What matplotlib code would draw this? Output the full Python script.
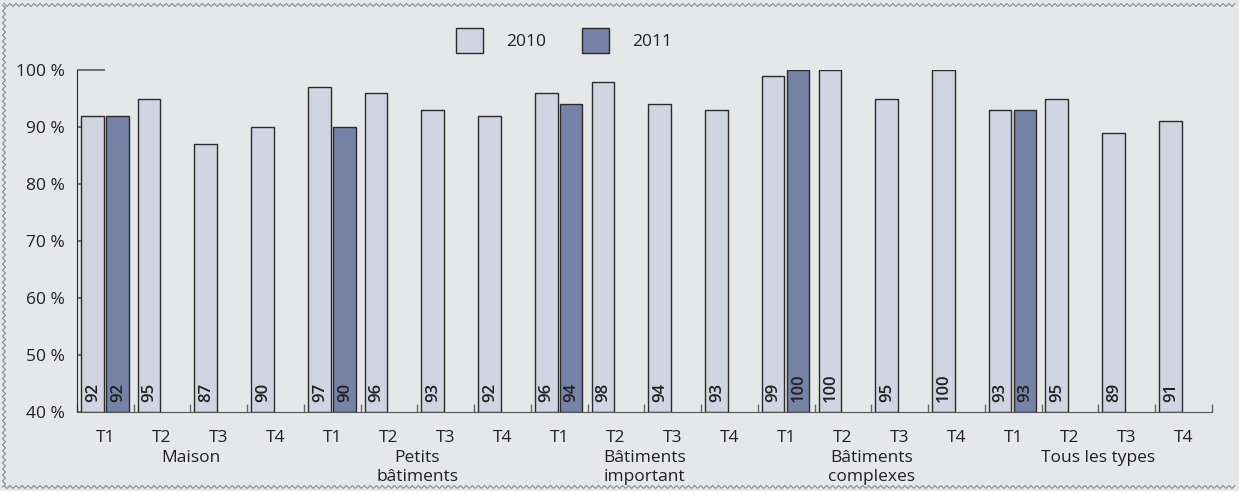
import matplotlib.pyplot as plt
import matplotlib.transforms as mtransforms
import numpy as np

plt.rcParams['font.family'] = ['Open Sans', 'DejaVu Sans']

groups = ['Maison', 'Petits\nbâtiments', 'Bâtiments\nimportant',
          'Bâtiments\ncomplexes', 'Tous les types']
periods = ['T1', 'T2', 'T3', 'T4']

# share (%) per group and period
vals_2010 = [92, 95, 87, 90,
             97, 96, 93, 92,
             96, 98, 94, 93,
             99, 100, 95, 100,
             93, 95, 89, 91]
# 2011 only has the first period of each group
vals_2011 = [92, 90, 94, 100, 93]

bg = '#e6e7e8'
c2010 = '#d1d5e1'
c2011 = '#7783a6'
edge = '#2b2b2b'
txt = '#231f20'

fig = plt.figure(figsize=(12.39, 4.91), dpi=100, facecolor=bg)
ax = fig.add_axes([0.0621, 0.161, 0.9159, 0.696], facecolor=bg)

n = len(vals_2010)
x = np.arange(n)
w = 0.40
b1 = ax.bar(x + 0.07, np.array(vals_2010) - 40, w, bottom=40, align='edge',
            color=c2010, edgecolor=edge, linewidth=1.0, label='2010', zorder=2)
x11 = x[::4]
b2 = ax.bar(x11 + 0.51, np.array(vals_2011) - 40, w, bottom=40, align='edge',
            color=c2011, edgecolor=edge, linewidth=1.0, label='2011', zorder=2)

# values written upright inside the bars, near the base
for xs, vs in ((x + 0.07, vals_2010), (x11 + 0.51, vals_2011)):
    for xi, v in zip(xs, vs):
        ax.text(xi + w / 2 + 0.01, 41.7, str(v), rotation=90, ha='center',
                va='bottom', fontsize=12, fontweight='semibold', color=txt,
                zorder=3)

ax.set_xlim(0, n)
ax.set_ylim(40, 100)
ax.spines['top'].set_visible(False)
ax.spines['right'].set_visible(False)
ax.spines['left'].set_color(edge)
ax.spines['bottom'].set_color('#555555')
ax.set_axisbelow(True)

yt = np.arange(40, 101, 10)
ax.set_yticks(yt)
ax.set_yticklabels([f'{t} %' for t in yt])
ax.tick_params(axis='y', direction='in', length=20, width=1.3, color='#666666',
               pad=9, labelsize=12.5, labelcolor=txt)

ax.set_xticks(np.arange(0, n + 1))
ax.set_xticklabels([])
ax.tick_params(axis='x', which='major', direction='in', length=6, width=1,
               color='#666666')
ax.set_xticks(x + 0.5, minor=True)
ax.set_xticklabels(periods * len(groups), minor=True)
ax.tick_params(axis='x', which='minor', length=0, pad=13, labelsize=12.5,
               labelcolor=txt)

for i, g in enumerate(groups):
    ax.annotate(g, xy=(4 * i + 2, 0), xycoords=('data', 'axes fraction'),
                xytext=(0, -27.5), textcoords='offset points', ha='center',
                va='top', fontsize=12.5, color=txt, linespacing=1.25)

ax.legend(handles=[b1, b2], loc='upper center', bbox_to_anchor=(0.429, 1.17),
          ncol=2, frameon=False, fontsize=12.5, handlelength=1.6,
          handleheight=1.9, columnspacing=2.05, handletextpad=1.3,
          labelcolor=txt)

# zigzag border around the figure
W, H = 1239, 491
tr = mtransforms.Affine2D().scale(1 / W, 1 / H) + fig.transFigure
def zig(x0, y0, x1, y1, step=6, amp=1.5):
    L = np.hypot(x1 - x0, y1 - y0)
    k = int(L // (step / 2))
    t = np.linspace(0, 1, k + 1)
    px = x0 + (x1 - x0) * t
    py = y0 + (y1 - y0) * t
    nx, ny = -(y1 - y0) / L, (x1 - x0) / L
    s = amp * np.where(np.arange(k + 1) % 2 == 0, 1, -1)
    return px + nx * s, py + ny * s

for seg in ((4, 486, 1235, 486), (4, 4, 1235, 4), (4, 4, 4, 486)):
    zx, zy = zig(*seg)
    fig.add_artist(plt.Line2D(zx, zy, transform=tr, color='#8a8a8a', lw=0.8))

fig.savefig('out.png', dpi=100, facecolor=bg)
